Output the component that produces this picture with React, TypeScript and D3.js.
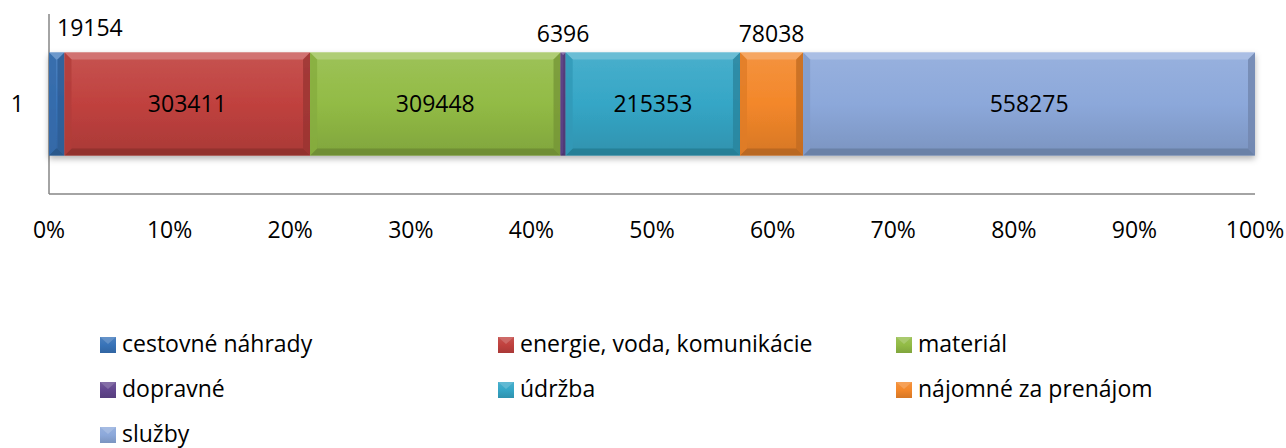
import React from 'react'
import * as d3 from 'd3'

const categories = ['1']
const seriesNames = [
  'cestovné náhrady',
  'energie, voda, komunikácie',
  'materiál',
  'dopravné',
  'údržba',
  'nájomné za prenájom',
  'služby',
]
const seriesValues = [19154, 303411, 309448, 6396, 215353, 78038, 558275]
const seriesColors = ['#3873b8', '#c0413e', '#92bb45', '#62468e', '#35a6c6', '#f3872a', '#8ca8da']
// where each value label sits: inside the segment or above it
const labelPlacement = ['aboveRight', 'inside', 'inside', 'above', 'inside', 'above', 'inside']
const tickValues = [0, 0.1, 0.2, 0.3, 0.4, 0.5, 0.6, 0.7, 0.8, 0.9, 1]

const W = 1286
const H = 448
const margin = { top: 14, right: 31, bottom: 254, left: 49 }
const FONT = '"Open Sans", "DejaVu Sans", sans-serif'
const FS = 23

const App = () => {
  const keys = seriesNames.map((_, i) => `s${i}`)
  const row: Record<string, any> = { cat: categories[0] }
  keys.forEach((k, i) => (row[k] = seriesValues[i]))

  const stacked = d3.stack().keys(keys).offset(d3.stackOffsetExpand)([row] as any)

  const x = d3.scaleLinear().domain([0, 1]).range([margin.left, W - margin.right])
  const y = d3
    .scaleBand()
    .domain(categories)
    .range([margin.top, H - margin.bottom])
    .paddingInner(0)
    .paddingOuter(0.375)

  const y0 = y(categories[0]) as number
  const bh = y.bandwidth()
  const y1 = y0 + bh
  const axisY = H - margin.bottom

  const lighten = (c: string, k: number) => d3.interpolateRgb(c, '#ffffff')(k)
  const darken = (c: string, k: number) => d3.interpolateRgb(c, '#000000')(k)

  // legend grid
  const legCols = [100, 498, 896]
  const legRows = [345, 390, 435]

  return (
    <div style={{ position: 'fixed', left: 0, top: 0 }}>
      <svg width={W} height={H} style={{ display: 'block', background: '#fff' }}>
        <defs>
          <filter id="shadow" x="-5%" y="-20%" width="110%" height="160%">
            <feDropShadow dx="0" dy="3" stdDeviation="3" floodColor="#000" floodOpacity="0.3" />
          </filter>
          {seriesColors.map((c, i) => (
            <linearGradient key={i} id={`g${i}`} x1="0" y1="0" x2="0" y2="1">
              <stop offset="0" stopColor={lighten(c, 0.1)} />
              <stop offset="0.5" stopColor={c} />
              <stop offset="1" stopColor={darken(c, 0.12)} />
            </linearGradient>
          ))}
        </defs>

        {/* axes */}
        <line x1={margin.left} x2={margin.left} y1={margin.top} y2={axisY} stroke="#868686" strokeWidth={1.5} />
        <line x1={margin.left} x2={W - margin.right} y1={axisY} y2={axisY} stroke="#868686" strokeWidth={1.5} />

        {/* bars */}
        <g filter="url(#shadow)">
          {stacked.map((s, i) => {
            const xa = x(s[0][0])
            const xb = x(s[0][1])
            const w = xb - xa
            const b = Math.min(7, w / 2)
            const c = seriesColors[i]
            return (
              <g key={i}>
                <rect x={xa} y={y0} width={w} height={bh} fill={`url(#g${i})`} />
                <polygon
                  points={`${xa},${y0} ${xb},${y0} ${xb - b},${y0 + b} ${xa + b},${y0 + b}`}
                  fill={lighten(c, 0.28)}
                  opacity={0.9}
                />
                <polygon
                  points={`${xa},${y1} ${xb},${y1} ${xb - b},${y1 - b} ${xa + b},${y1 - b}`}
                  fill={darken(c, 0.25)}
                  opacity={0.9}
                />
                <polygon
                  points={`${xa},${y0} ${xa + b},${y0 + b} ${xa + b},${y1 - b} ${xa},${y1}`}
                  fill={darken(c, 0.08)}
                  opacity={0.8}
                />
                <polygon
                  points={`${xb},${y0} ${xb - b},${y0 + b} ${xb - b},${y1 - b} ${xb},${y1}`}
                  fill={darken(c, 0.2)}
                  opacity={0.8}
                />
              </g>
            )
          })}
        </g>

        {/* value labels */}
        {stacked.map((s, i) => {
          const xa = x(s[0][0])
          const xb = x(s[0][1])
          const cx = (xa + xb) / 2
          const p = labelPlacement[i]
          if (p === 'inside') {
            return (
              <text key={i} x={cx} y={y0 + bh / 2 + 8} textAnchor="middle" fontFamily={FONT} fontSize={FS} fill="#000">
                {seriesValues[i]}
              </text>
            )
          }
          if (p === 'aboveRight') {
            return (
              <text key={i} x={xa + 8} y={y0 - 17} textAnchor="start" fontFamily={FONT} fontSize={FS} fill="#000">
                {seriesValues[i]}
              </text>
            )
          }
          return (
            <text key={i} x={cx} y={y0 - 11} textAnchor="middle" fontFamily={FONT} fontSize={FS} fill="#000">
              {seriesValues[i]}
            </text>
          )
        })}

        {/* category label */}
        <text x={margin.left - 25} y={y0 + bh / 2 + 8} textAnchor="end" fontFamily={FONT} fontSize={FS} fill="#000">
          {categories[0]}
        </text>

        {/* tick labels */}
        {tickValues.map(t => (
          <text key={t} x={x(t)} y={axisY + 44} textAnchor="middle" fontFamily={FONT} fontSize={FS} fill="#000">
            {d3.format('.0%')(t)}
          </text>
        ))}

        {/* legend */}
        {seriesNames.map((name, i) => {
          const lx = legCols[i % 3]
          const ly = legRows[Math.floor(i / 3)]
          const c = seriesColors[i]
          return (
            <g key={name}>
              <rect x={lx} y={ly - 8} width={16} height={16} fill={`url(#g${i})`} />
              <polygon points={`${lx},${ly - 8} ${lx + 16},${ly - 8} ${lx + 8},${ly - 1}`} fill={lighten(c, 0.25)} opacity={0.8} />
              <text x={lx + 22} y={ly + 7} fontFamily={FONT} fontSize={FS} fill="#000">
                {name}
              </text>
            </g>
          )
        })}
      </svg>
    </div>
  )
}

export default App
